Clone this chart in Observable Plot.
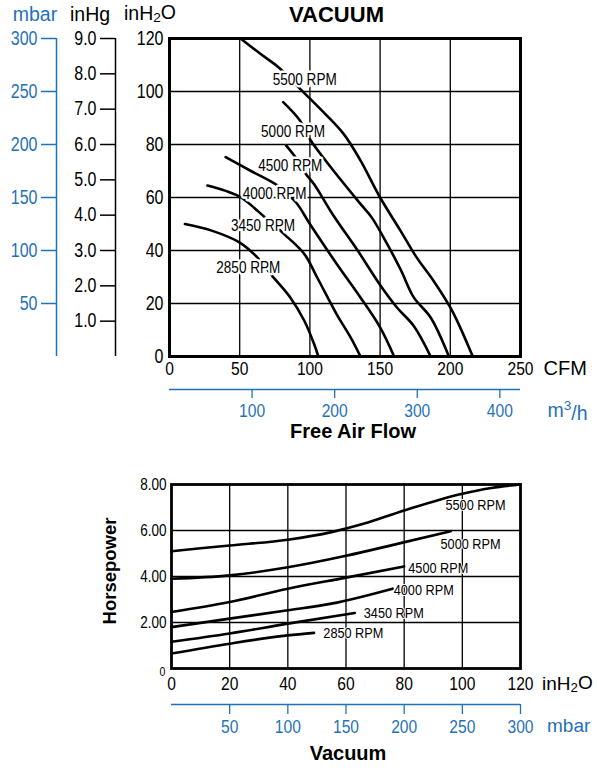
<!DOCTYPE html>
<html>
<head>
<meta charset="utf-8">
<script src="https://cdn.jsdelivr.net/npm/d3@7"></script>
<script src="https://cdn.jsdelivr.net/npm/@observablehq/plot@0.6"></script>
<style>
  html, body { margin: 0; padding: 0; background: #fff; }
  svg { display: block; }
</style>
</head>
<body>
<script>
// ---------- data ----------
const rpmNames = ["2850 RPM", "3450 RPM", "4000 RPM", "4500 RPM", "5000 RPM", "5500 RPM"];

// Vacuum (inH2O) vs free air flow (CFM)
const vac2850 = [[11,50],[30,47.5],[50,43],[62,37.7],[73,30.5],[86,22.3],[96,13.5],[103,4.7],[106,0]];
const vac3450 = [[27,64.5],[40,62.5],[51,60],[68,52.5],[82,46],[96,38.7],[105,30],[119,16],[129,7.2],[136,0]];
const vac4000 = [[40,75.2],[58,70],[77,64.5],[90,58.2],[100,50],[119,35],[136,22.3],[150,11],[160,0]];
const vac4500 = [[83,79.7],[90,75],[97,69],[103,65],[117,53],[134,40],[150,27],[162,18.5],[174,11.5],[186,0]];
const vac5000 = [[81,96],[93,89],[100,82],[117,70],[136,57.6],[144,52.5],[155,42.5],[165,32.4],[174,22.3],[186,14.7],[199,0]];
const vac5500 = [[50.6,120],[64,114.5],[78,109],[93,101],[110,92],[124,84],[136,74],[150,60],[164.5,47.5],[176,37.4],[188,28.6],[200,18.5],[207,11],[216,0]];

// Horsepower vs vacuum (inH2O)
const hp2850 = [[0,0.65],[20,1.08],[40,1.44],[49,1.55]];
const hp3450 = [[0,1.16],[20,1.52],[40,1.95],[63,2.41]];
const hp4000 = [[0,1.8],[20,2.17],[40,2.53],[55,2.82],[76,3.47]];
const hp4500 = [[0,2.46],[20,2.89],[40,3.47],[60,3.95],[80,4.44]];
const hp5000 = [[0,3.9],[20,4.05],[40,4.4],[60,4.9],[78,5.43],[96,5.97]];
const hp5500 = [[0,5.1],[20,5.35],[40,5.6],[55,5.93],[66,6.29],[80,6.87],[100,7.6],[110,7.85],[120,8.0]];

// label anchor positions (data units)
const topLabelX = [56.1, 66.6, 74.9, 86, 88, 96.3];
const topLabelY = [33.4, 49.2, 61.4, 72.1, 85, 104.5];
const botLabelX = [52.2, 66.1, 76.4, 81.4, 92.5, 94.2];
const botLabelY = [1.55, 2.41, 3.43, 4.38, 5.39, 7.09];

// ticks
const cfmTicks = [0, 50, 100, 150, 200, 250];
const m3hTicks = [100, 200, 300, 400];
const inH2OTicks = [0, 20, 40, 60, 80, 100, 120];
const inHgTicks = [1, 2, 3, 4, 5, 6, 7, 8, 9];
const mbarTicksTop = [50, 100, 150, 200, 250, 300];
const hpTicks = [2, 4, 6, 8];
const vacTicks = [0, 20, 40, 60, 80, 100, 120];
const mbarTicksBottom = [50, 100, 150, 200, 250, 300];

// unit conversions used by the chart's secondary scales
const M3H_PER_CFM = 1.70;
const MBAR_PER_INH2O = 2.5;
const INH2O_PER_INHG = 120 / 9;

// ---------- styling ----------
const BLUE = "#1f72b8";
const SANS = "'Liberation Sans', Arial, Helvetica, sans-serif";
const CONDENSE = 0.82; // narrow face for numbers and RPM labels

const toRows = (series) => series.flatMap((pts, i) => pts.map(([x, y]) => ({x, y, rpm: rpmNames[i]})));
const vacRows = toRows([vac2850, vac3450, vac4000, vac4500, vac5000, vac5500]);
const hpRows = toRows([hp2850, hp3450, hp4000, hp4500, hp5000, hp5500]);
const topLabels = rpmNames.map((t, i) => ({t, x: topLabelX[i], y: topLabelY[i]}));
const botLabels = rpmNames.map((t, i) => ({t, x: botLabelX[i], y: botLabelY[i]}));

const note = (txt, o) => Plot.text([txt], {lineAnchor: "middle", fontFamily: SANS, ...o});

// ---------- top chart: VACUUM ----------
const topChart = Plot.plot({
  width: 597, height: 445,
  marginLeft: 169, marginRight: 77, marginTop: 38, marginBottom: 89,
  x: {domain: [0, 250]},
  y: {domain: [0, 120]},
  style: {fontFamily: SANS, fontSize: "18px", color: "#000", background: "#fff", overflow: "visible"},
  marks: [
    Plot.gridX([50, 100, 150, 200], {stroke: "#000", strokeOpacity: 1, strokeWidth: 1.3}),
    Plot.gridY([20, 40, 60, 80, 100], {stroke: "#000", strokeOpacity: 1, strokeWidth: 1.3}),
    Plot.line(vacRows, {x: "x", y: "y", z: "rpm", curve: "catmull-rom", stroke: "#000", strokeWidth: 2.6}),
    Plot.text(topLabels, {x: "x", y: "y", text: "t", fill: "#000", stroke: "#fff", strokeWidth: 5, fontSize: 16.5}),
    Plot.frame({stroke: "#000", strokeWidth: 3}),
    // inH2O axis
    Plot.axisY(inH2OTicks, {anchor: "left", tickSize: 0, tickPadding: 6, fontSize: 19.5, label: null}),
    // inHg axis
    Plot.ruleX([0], {dx: -54, stroke: "#000", strokeWidth: 1.5}),
    Plot.axisY(inHgTicks.map(v => v * INH2O_PER_INHG), {anchor: "left", dx: -54, tickSize: 15, tickPadding: 4, strokeWidth: 1.5, fontSize: 19.5, label: null, tickFormat: d => d3.format(".1f")(d / INH2O_PER_INHG)}),
    // mbar axis
    Plot.ruleX([0], {dx: -113, stroke: BLUE, strokeWidth: 1.5}),
    Plot.axisY(mbarTicksTop.map(v => v / MBAR_PER_INH2O), {anchor: "left", dx: -113, tickSize: 15, tickPadding: 4, stroke: BLUE, fill: BLUE, strokeWidth: 1.5, fontSize: 19.5, label: null, tickFormat: d => Math.round(d * MBAR_PER_INH2O)}),
    // CFM axis
    Plot.axisX(cfmTicks, {anchor: "bottom", tickSize: 0, tickPadding: 5, fontSize: 19, label: null}),
    // m3/h axis
    Plot.ruleY([0], {dy: 33, stroke: BLUE, strokeWidth: 1.3}),
    Plot.axisX(m3hTicks.map(v => v / M3H_PER_CFM), {anchor: "bottom", dy: 33, tickSize: 9, tickPadding: 5, stroke: BLUE, fill: BLUE, strokeWidth: 1.3, fontSize: 19, label: null, tickFormat: d => Math.round(d * M3H_PER_CFM)}),
    // titles
    note("VACUUM", {frameAnchor: "top", dx: -8.5, dy: -23.5, fontWeight: "bold", fontSize: 22}),
    note("mbar", {frameAnchor: "top-left", textAnchor: "middle", dx: -134.5, dy: -23.5, fontSize: 19.5, fill: BLUE}),
    note("inHg", {frameAnchor: "top-left", textAnchor: "middle", dx: -79.5, dy: -23.5, fontSize: 19.5}),
    note("inH2O", {frameAnchor: "top-left", textAnchor: "middle", dx: -19.5, dy: -25, fontSize: 19.5}),
    note("CFM", {frameAnchor: "bottom-right", textAnchor: "start", dx: 23, dy: 12, fontSize: 20}),
    note("m3/h", {frameAnchor: "bottom-right", textAnchor: "start", dx: 27, dy: 54, fontSize: 19.5, fill: BLUE}),
    note("Free Air Flow", {frameAnchor: "bottom", dx: 8, dy: 75.5, fontWeight: "bold", fontSize: 20})
  ]
});

// ---------- bottom chart: Horsepower ----------
const bottomChart = Plot.plot({
  width: 597, height: 323,
  marginLeft: 171, marginRight: 77, marginTop: 39, marginBottom: 100,
  x: {domain: [0, 120]},
  y: {domain: [0, 8]},
  style: {fontFamily: SANS, fontSize: "18px", color: "#000", background: "#fff", overflow: "visible"},
  marks: [
    Plot.gridX([20, 40, 60, 80, 100], {stroke: "#000", strokeOpacity: 1, strokeWidth: 1.3}),
    Plot.gridY([2, 4, 6], {stroke: "#000", strokeOpacity: 1, strokeWidth: 1.3}),
    Plot.line(hpRows, {x: "x", y: "y", z: "rpm", curve: "monotone-x", stroke: "#000", strokeWidth: 2.6}),
    Plot.text(botLabels, {x: "x", y: "y", text: "t", textAnchor: "start", fill: "#000", stroke: "#fff", strokeWidth: 2, fontSize: 15.5}),
    Plot.frame({stroke: "#000", strokeWidth: 2.8}),
    Plot.axisY(hpTicks, {anchor: "left", tickSize: 0, tickPadding: 5, fontSize: 16.5, label: null, tickFormat: d3.format(".2f")}),
    Plot.axisY([0], {anchor: "left", tickSize: 0, tickPadding: 6, dy: 3, fontSize: 13, label: null, tickFormat: d => "0"}),
    Plot.axisX(vacTicks, {anchor: "bottom", tickSize: 0, tickPadding: 8, fontSize: 19, label: null}),
    Plot.ruleY([0], {dy: 36, stroke: BLUE, strokeWidth: 1.3}),
    Plot.axisX(mbarTicksBottom.map(v => v / MBAR_PER_INH2O), {anchor: "bottom", dy: 36, tickSize: 10, tickPadding: 5, stroke: BLUE, fill: BLUE, strokeWidth: 1.3, fontSize: 19, label: null, tickFormat: d => Math.round(d * MBAR_PER_INH2O)}),
    note("Horsepower", {frameAnchor: "left", textAnchor: "middle", rotate: -90, dx: -61, dy: -5.5, fontWeight: "bold", fontSize: 18.5}),
    note("inH2O", {frameAnchor: "bottom-right", textAnchor: "start", dx: 21.5, dy: 15, fontSize: 19}),
    note("mbar", {frameAnchor: "bottom-right", textAnchor: "start", dx: 26.5, dy: 57.7, fontSize: 19, fill: BLUE}),
    note("Vacuum", {frameAnchor: "bottom", dx: 2, dy: 85, fontWeight: "bold", fontSize: 20})
  ]
});

document.body.appendChild(topChart);
document.body.appendChild(bottomChart);

// narrow numerals and RPM labels, sub/superscripts in unit labels
d3.selectAll("svg text").each(function () {
  const t = this.textContent;
  if (/^[\d.]+$/.test(t) || /RPM$/.test(t)) {
    const len = this.getComputedTextLength();
    this.setAttribute("textLength", (len * CONDENSE).toFixed(2));
    this.setAttribute("lengthAdjust", "spacingAndGlyphs");
  } else if (t === "inH2O") {
    this.innerHTML = 'inH<tspan font-size="70%" dy="0.17em">2</tspan><tspan dy="-0.17em">O</tspan>';
  } else if (t === "m3/h") {
    this.innerHTML = 'm<tspan font-size="70%" dy="-0.5em">3</tspan><tspan dy="0.5em">/h</tspan>';
  }
});
</script>
</body>
</html>
